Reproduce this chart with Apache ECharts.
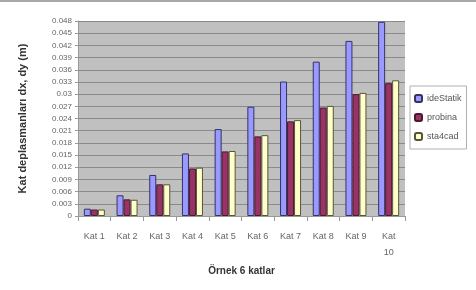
<!DOCTYPE html>
<html>
<head>
<meta charset="utf-8">
<script src="https://cdn.jsdelivr.net/npm/echarts@6/dist/echarts.min.js"></script>
<style>
  html, body { margin: 0; padding: 0; background: #fff; }
  #main { width: 476px; height: 290px; }
</style>
</head>
<body>
<div id="main"></div>
<script>
var categories = ['Kat 1', 'Kat 2', 'Kat 3', 'Kat 4', 'Kat 5', 'Kat 6', 'Kat 7', 'Kat 8', 'Kat 9', 'Kat 10'];
var ideStatik = [0.0018, 0.0051, 0.0101, 0.0154, 0.0214, 0.0269, 0.0331, 0.0380, 0.0431, 0.0478];
var probina = [0.0016, 0.0041, 0.0078, 0.0117, 0.0159, 0.0196, 0.0233, 0.0267, 0.0300, 0.0327];
var sta4cad = [0.0016, 0.0040, 0.0078, 0.0119, 0.0160, 0.0199, 0.0236, 0.0271, 0.0303, 0.0334];

var chart = echarts.init(document.getElementById('main'));

var font = 'Liberation Sans, Arial, sans-serif';

chart.setOption({
    animation: false,
    backgroundColor: '#fff',
    graphic: [{
        type: 'rect',
        shape: { x: 0, y: 0, width: 476, height: 2 },
        style: { fill: '#a8a8a8' }
    }],
    grid: {
        left: 78,
        right: 71,
        top: 21,
        bottom: 74,
        show: true,
        backgroundColor: '#c0c0c0',
        borderWidth: 0
    },
    legend: {
        orient: 'vertical',
        left: 410,
        top: 86,
        itemWidth: 7,
        itemHeight: 7,
        itemGap: 10,
        padding: [8, 5, 8, 4],
        borderColor: '#b0b0b0',
        borderWidth: 1,
        backgroundColor: '#fff',
        textStyle: { fontFamily: font, fontSize: 9, color: '#555' },
        data: ['ideStatik', 'probina', 'sta4cad']
    },
    xAxis: {
        type: 'category',
        data: categories,
        name: 'Örnek 6 katlar',
        nameLocation: 'middle',
        nameGap: 50,
        nameTextStyle: { fontFamily: font, fontSize: 10, fontWeight: 'bold', color: '#333' },
        axisLine: { lineStyle: { color: '#999' } },
        axisTick: { show: true, alignWithLabel: false, lineStyle: { color: '#999' } },
        axisLabel: {
            interval: 0,
            margin: 13,
            fontFamily: font,
            fontSize: 9,
            color: '#666',
            lineHeight: 16,
            formatter: function (v) { return v === 'Kat 10' ? 'Kat\n10' : v; }
        }
    },
    yAxis: {
        type: 'value',
        min: 0,
        max: 0.048,
        interval: 0.003,
        name: 'Kat deplasmanları dx, dy (m)',
        nameLocation: 'middle',
        nameGap: 50,
        nameTextStyle: { fontFamily: font, fontSize: 11, fontWeight: 'bold', color: '#333' },
        axisLine: { show: true, lineStyle: { color: '#999' } },
        axisTick: { show: true, length: 3, lineStyle: { color: '#999' } },
        splitLine: { lineStyle: { color: '#8a8a8a', width: 1 } },
        axisLabel: {
            fontFamily: font,
            fontSize: 8,
            color: '#666',
            margin: 6,
            formatter: function (v) { return String(parseFloat(v.toFixed(3))); }
        }
    },
    series: [{
        name: 'ideStatik',
        type: 'bar',
        data: ideStatik,
        barWidth: 7,
        barGap: '0%',
        itemStyle: { color: '#9999ff', borderColor: '#333366', borderWidth: 1 }
    }, {
        name: 'probina',
        type: 'bar',
        data: probina,
        barWidth: 7,
        barGap: '0%',
        itemStyle: { color: '#993366', borderColor: '#4a1a30', borderWidth: 1 }
    }, {
        name: 'sta4cad',
        type: 'bar',
        data: sta4cad,
        barWidth: 7,
        barGap: '0%',
        itemStyle: { color: '#ffffcc', borderColor: '#555533', borderWidth: 1 }
    }]
});
</script>
</body>
</html>
